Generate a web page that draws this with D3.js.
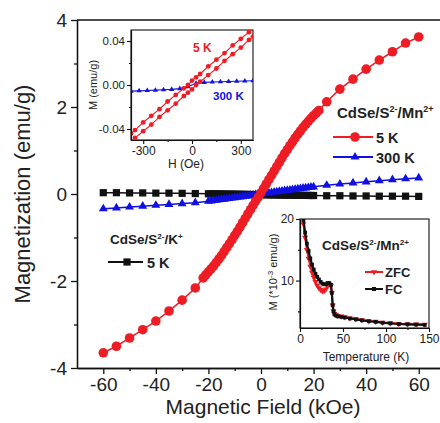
<!DOCTYPE html>
<html>
<head>
<meta charset="utf-8">
<script src="https://cdnjs.cloudflare.com/ajax/libs/d3/7.8.5/d3.min.js"></script>
<style>
  body { margin: 0; background: #fff; }
  svg { display: block; font-family: "Liberation Sans", Arial, sans-serif; }
</style>
</head>
<body>
<svg id="chart" width="440" height="423"></svg>
<script>
/* DATA */

// Main panel, CdSe/S2-/Mn2+ at 5 K (kOe, emu/g)
const field5K = [-60, -55, -50, -45, -40, -35, -30, -25,
  -22, -21, -20, -19, -18, -17, -16, -15, -14, -13, -12, -11, -10, -9, -8, -7, -6, -5, -4, -3, -2, -1,
  0, 1, 2, 3, 4, 5, 6, 7, 8, 9, 10, 11, 12, 13, 14, 15, 16, 17, 18, 19, 20, 21, 22,
  25, 30, 35, 40, 45, 50, 55, 60]
const mag5K = [-3.65, -3.5, -3.31, -3.12, -2.92, -2.69, -2.44, -2.16,
  -1.93, -1.86, -1.79, -1.72, -1.65, -1.57, -1.49, -1.41, -1.32, -1.23, -1.14, -1.05, -0.95, -0.86, -0.76, -0.66, -0.56, -0.46, -0.36, -0.26, -0.16, -0.07,
  0.03, 0.13, 0.23, 0.33, 0.43, 0.53, 0.63, 0.73, 0.83, 0.93, 1.02, 1.11, 1.2, 1.29, 1.37, 1.45, 1.53, 1.6, 1.67, 1.74, 1.8, 1.86, 1.92,
  2.12, 2.41, 2.64, 2.87, 3.08, 3.27, 3.47, 3.61]

// Main panel, shared field points for 300 K and K+ sample
const fieldOther = [-60, -55, -50, -45, -40, -35, -30, -25,
  -20, -19, -18, -17, -16, -15, -14, -13, -12, -11, -10, -9, -8, -7, -6, -5, -4, -3, -2, -1,
  0, 1, 2, 3, 4, 5, 6, 7, 8, 9, 10, 11, 12, 13, 14, 15, 16, 17, 18, 19, 20,
  25, 30, 35, 40, 45, 50, 55, 60]
const mag300K = [-0.34, -0.32, -0.3, -0.28, -0.26, -0.24, -0.22, -0.2,
  -0.165, -0.157, -0.149, -0.141, -0.133, -0.125, -0.117, -0.109, -0.1, -0.092, -0.084, -0.076, -0.068, -0.06, -0.051, -0.043, -0.034, -0.026, -0.017, -0.009,
  0, 0.009, 0.017, 0.026, 0.034, 0.043, 0.051, 0.06, 0.068, 0.076, 0.084, 0.092, 0.1, 0.109, 0.117, 0.125, 0.133, 0.141, 0.149, 0.157, 0.165,
  0.2, 0.23, 0.255, 0.28, 0.305, 0.33, 0.35, 0.37]
const magK5K = [0.03, 0.03, 0.025, 0.025, 0.02, 0.02, 0.015, 0.01,
  0.005, 0.004, 0.003, 0.002, 0.001, 0, -0.001, -0.002, -0.003, -0.004, -0.005, -0.006, -0.007, -0.008, -0.009, -0.01, -0.011, -0.012, -0.013, -0.014,
  -0.015, -0.016, -0.017, -0.018, -0.019, -0.02, -0.021, -0.022, -0.023, -0.024, -0.025, -0.026, -0.027, -0.028, -0.029, -0.03, -0.031, -0.032, -0.033, -0.034, -0.035,
  -0.04, -0.04, -0.045, -0.045, -0.05, -0.05, -0.05, -0.055]

const mainXTicks = [-60, -40, -20, 0, 20, 40, 60]
const mainXMinor = [-50, -30, -10, 10, 30, 50]
const mainYTicks = [-4, -2, 0, 2, 4]
const mainYMinor = [-3, -1, 1, 3]

// Inset 1: low field loops (Oe, emu/g)
const loopField = [-375, -350, -300, -250, -200, -150, -100, -50, -25, 0, 25, 50, 100, 150, 200, 250, 300, 350, 375]
const loopDown = [-0.044, -0.041, -0.034, -0.028, -0.022, -0.015, -0.009, -0.003, 0, 0.004, 0.007, 0.01, 0.017, 0.023, 0.029, 0.036, 0.042, 0.048, 0.052]
const loopUp = [-0.052, -0.048, -0.042, -0.036, -0.029, -0.023, -0.017, -0.01, -0.007, -0.004, 0, 0.003, 0.009, 0.015, 0.022, 0.028, 0.034, 0.041, 0.044]
const lowField300 = [-375, -325, -275, -225, -175, -125, -75, -25, 25, 75, 125, 175, 225, 275, 325, 375]
const lowMag300 = [-0.0056, -0.0053, -0.005, -0.0047, -0.0043, -0.004, -0.0033, -0.0015, 0.0015, 0.0024, 0.0027, 0.003, 0.0032, 0.0034, 0.0036, 0.0038]
const inset1XTicks = [-300, 0, 300]
const inset1XMinor = [-150, 150]
const inset1YTicks = [-0.04, 0, 0.04]
const inset1YMinor = [-0.02, 0.02]

// Inset 2: ZFC / FC (K, 1e-3 emu/g)
const temps = [4, 6, 8, 10, 12, 14, 16, 18, 20, 22, 24, 26, 28, 30, 32, 34, 36, 37, 38, 39, 40, 42, 44, 48, 52, 58, 65, 72, 80, 88, 96, 105, 115, 125, 135, 145]
const magFC = [19.8, 17.8, 16.0, 14.8, 13.6, 12.6, 11.8, 11.1, 10.6, 10.2, 9.8, 9.5, 9.4, 9.4, 9.6, 9.6, 9.3, 8.0, 6.0, 5.0, 4.5, 4.3, 4.2, 4.1, 4.0, 3.85, 3.7, 3.55, 3.4, 3.3, 3.15, 3.05, 2.95, 2.9, 2.85, 2.8]
const magZFC = [19.2, 17.0, 15.0, 13.6, 12.3, 11.3, 10.5, 9.8, 9.2, 8.8, 8.5, 8.3, 8.3, 8.6, 9.1, 9.4, 9.2, 8.0, 6.0, 5.0, 4.6, 4.4, 4.3, 4.2, 4.1, 3.9, 3.75, 3.6, 3.45, 3.35, 3.2, 3.1, 3.0, 2.95, 2.9, 2.85]
const inset2XTicks = [0, 50, 100, 150]
const inset2XMinor = [25, 75, 125]
const inset2YTicks = [10, 20]
const inset2YMinor = [5, 15]

/* COLOURS */
const red = '#ee1c24'
const blue = '#1010e0'
const black = '#111'

const svg = d3.select('#chart')

function styleAxis (g, fontSize, strokeWidth) {
  g.selectAll('path.domain').attr('stroke', black).attr('stroke-width', strokeWidth)
  g.selectAll('.tick line').attr('stroke', black).attr('stroke-width', strokeWidth)
  g.selectAll('.tick text').attr('fill', '#222').style('font-size', fontSize + 'px')
    .style('font-family', '"Liberation Sans", Arial, sans-serif')
}

// minor ticks only, no labels
function minorTicks (axis, translate, strokeWidth) {
  const g = svg.append('g').attr('transform', translate)
    .call(axis.tickSize(axis === null ? 0 : axis.tickSize()).tickSizeOuter(0))
  g.selectAll('.tick text').remove()
  styleAxis(g, 10, strokeWidth)
  return g
}

/* MAIN PANEL */

const x = d3.scaleLinear().domain([-70, 70]).range([77, 445])
const y = d3.scaleLinear().domain([-4, 4]).range([368, 20])

// top frame
svg.append('line')
  .attr('x1', x(-70)).attr('x2', x(70))
  .attr('y1', y(4)).attr('y2', y(4))
  .attr('stroke', black).attr('stroke-width', 1.3)

minorTicks(d3.axisBottom(x).tickValues(mainXMinor).tickSize(3), `translate(0,${y(-4)})`, 1.3)
const xAxisG = svg.append('g').attr('transform', `translate(0,${y(-4)})`)
  .call(d3.axisBottom(x).tickValues(mainXTicks).tickSize(6).tickSizeOuter(0).tickPadding(4).tickFormat(d => String(d)))
styleAxis(xAxisG, 19, 1.3)

minorTicks(d3.axisLeft(y).tickValues(mainYMinor).tickSize(3), `translate(${x(-70)},0)`, 1.3)
const yAxisG = svg.append('g').attr('transform', `translate(${x(-70)},0)`)
  .call(d3.axisLeft(y).tickValues(mainYTicks).tickSize(6).tickSizeOuter(0).tickPadding(4).tickFormat(d => String(d)))
styleAxis(yAxisG, 19, 1.3)

svg.append('text')
  .attr('x', 263).attr('y', 414)
  .attr('text-anchor', 'middle')
  .style('font-size', '21px').attr('fill', '#222')
  .text('Magnetic Field (kOe)')

svg.append('text')
  .attr('transform', 'translate(30,194) rotate(-90)')
  .attr('text-anchor', 'middle')
  .style('font-size', '22px').attr('fill', '#222')
  .text('Magnetization (emu/g)')

const line = d3.line().x(d => x(d[0])).y(d => y(d[1]))

// K+ sample, black squares
const kData = fieldOther.map((h, i) => [h, magK5K[i]])
svg.append('path').datum(kData).attr('d', line)
  .attr('fill', 'none').attr('stroke', black).attr('stroke-width', 1.5)
svg.append('g').selectAll('path').data(kData).join('path')
  .attr('transform', d => `translate(${x(d[0])},${y(d[1])})`)
  .attr('d', d3.symbol().type(d3.symbolSquare).size(52)())
  .attr('fill', black)

// 300 K, blue triangles
const blueData = fieldOther.map((h, i) => [h, mag300K[i]])
svg.append('path').datum(blueData).attr('d', line)
  .attr('fill', 'none').attr('stroke', blue).attr('stroke-width', 1.5)
svg.append('g').selectAll('path').data(blueData).join('path')
  .attr('transform', d => `translate(${x(d[0])},${y(d[1])})`)
  .attr('d', d3.symbol().type(d3.symbolTriangle).size(34)())
  .attr('fill', blue)

// 5 K, red circles
const redData = field5K.map((h, i) => [h, mag5K[i]])
svg.append('path').datum(redData).attr('d', line)
  .attr('fill', 'none').attr('stroke', red).attr('stroke-width', 1.5)
svg.append('g').selectAll('circle').data(redData).join('circle')
  .attr('cx', d => x(d[0])).attr('cy', d => y(d[1])).attr('r', 4.8)
  .attr('fill', red)

// Chemical formula label: parts alternate normal text / superscript
function chemLabel (px, py, size, parts) {
  const t = svg.append('text').attr('x', px).attr('y', py)
    .style('font-size', size + 'px').style('font-weight', 'bold').attr('fill', '#222')
  let raised = false
  parts.forEach(p => {
    if (p.sup) {
      t.append('tspan').attr('dy', -size * 0.4).style('font-size', (size * 0.6) + 'px').text(p.sup)
      raised = true
    } else {
      t.append('tspan').attr('dy', raised ? size * 0.4 : 0).text(p.t)
      raised = false
    }
  })
  return t
}

chemLabel(337, 118, 15, [{ t: 'CdSe/S' }, { sup: '2-' }, { t: '/Mn' }, { sup: '2+' }])

const legendItems = [
  { label: '5 K', colour: red, kind: 'circle', y: 137 },
  { label: '300 K', colour: blue, kind: 'triangle', y: 157 }
]
legendItems.forEach(d => {
  svg.append('line').attr('x1', 333).attr('x2', 373).attr('y1', d.y).attr('y2', d.y)
    .attr('stroke', d.colour).attr('stroke-width', 1.8)
  if (d.kind === 'circle') {
    svg.append('circle').attr('cx', 355).attr('cy', d.y).attr('r', 4.8).attr('fill', d.colour)
  } else {
    svg.append('path').attr('transform', `translate(355,${d.y})`)
      .attr('d', d3.symbol().type(d3.symbolTriangle).size(34)()).attr('fill', d.colour)
  }
  svg.append('text').attr('x', 376).attr('y', d.y + 5.5)
    .style('font-size', '14.5px').style('font-weight', 'bold').attr('fill', '#222')
    .text(d.label)
})

chemLabel(110, 244, 13.5, [{ t: 'CdSe/S' }, { sup: '2-' }, { t: '/K' }, { sup: '+' }])
svg.append('line').attr('x1', 108).attr('x2', 143).attr('y1', 262).attr('y2', 262)
  .attr('stroke', black).attr('stroke-width', 1.8)
svg.append('path').attr('transform', 'translate(127,262)')
  .attr('d', d3.symbol().type(d3.symbolSquare).size(52)()).attr('fill', black)
svg.append('text').attr('x', 147).attr('y', 267.5)
  .style('font-size', '14.5px').style('font-weight', 'bold').attr('fill', '#222')
  .text('5 K')

/* INSET 1: low-field loops */

const x1 = d3.scaleLinear().domain([-375, 375]).range([131, 253])
const y1 = d3.scaleLinear().domain([-0.05, 0.05]).range([140, 30])

svg.append('rect').attr('x', 131).attr('y', 30).attr('width', 122).attr('height', 110)
  .attr('fill', '#fff').attr('stroke', black).attr('stroke-width', 1.1)

svg.append('clipPath').attr('id', 'clip1')
  .append('rect').attr('x', 131).attr('y', 30).attr('width', 122).attr('height', 110)

const in1 = svg.append('g').attr('clip-path', 'url(#clip1)')
const line1 = d3.line().x(d => x1(d[0])).y(d => y1(d[1]))

const blueLow = lowField300.map((h, i) => [h, lowMag300[i]])
in1.append('path').datum(blueLow).attr('d', line1)
  .attr('fill', 'none').attr('stroke', blue).attr('stroke-width', 1.1)
in1.append('g').selectAll('path').data(blueLow).join('path')
  .attr('transform', d => `translate(${x1(d[0])},${y1(d[1])})`)
  .attr('d', d3.symbol().type(d3.symbolTriangle).size(12)())
  .attr('fill', blue)

;[loopDown, loopUp].forEach(branch => {
  const pts = loopField.map((h, i) => [h, branch[i]])
  in1.append('path').datum(pts).attr('d', line1)
    .attr('fill', 'none').attr('stroke', red).attr('stroke-width', 1.1)
  in1.append('g').selectAll('circle').data(pts).join('circle')
    .attr('cx', d => x1(d[0])).attr('cy', d => y1(d[1])).attr('r', 2.4)
    .attr('fill', red)
})

minorTicks(d3.axisBottom(x1).tickValues(inset1XMinor).tickSize(2), 'translate(0,140)', 1.1)
const i1xMajor = svg.append('g').attr('transform', 'translate(0,140)')
  .call(d3.axisBottom(x1).tickValues(inset1XTicks).tickSize(4).tickSizeOuter(0).tickPadding(2).tickFormat(d => String(d)))
styleAxis(i1xMajor, 12, 1.1)
minorTicks(d3.axisLeft(y1).tickValues(inset1YMinor).tickSize(2), 'translate(131,0)', 1.1)
const i1yMajor = svg.append('g').attr('transform', 'translate(131,0)')
  .call(d3.axisLeft(y1).tickValues(inset1YTicks).tickSize(4).tickSizeOuter(0).tickPadding(2).tickFormat(d => d.toFixed(2)))
styleAxis(i1yMajor, 11.5, 1.1)

svg.append('text').attr('x', 186).attr('y', 168).attr('text-anchor', 'middle')
  .style('font-size', '12px').attr('fill', '#222').text('H (Oe)')
svg.append('text').attr('transform', 'translate(97,85) rotate(-90)').attr('text-anchor', 'middle')
  .style('font-size', '11px').attr('fill', '#222').text('M (emu/g)')
svg.append('text').attr('x', 193).attr('y', 52)
  .style('font-size', '12px').style('font-weight', 'bold').attr('fill', red).text('5 K')
svg.append('text').attr('x', 213).attr('y', 100)
  .style('font-size', '11.5px').style('font-weight', 'bold').attr('fill', blue).text('300 K')

/* INSET 2: ZFC / FC */

const x2 = d3.scaleLinear().domain([0, 150]).range([300, 429])
const y2 = d3.scaleLinear().domain([2.3, 20]).range([328, 219])

svg.append('rect').attr('x', 300).attr('y', 219).attr('width', 129).attr('height', 109)
  .attr('fill', '#fff').attr('stroke', black).attr('stroke-width', 1.1)
svg.append('clipPath').attr('id', 'clip2')
  .append('rect').attr('x', 300).attr('y', 219).attr('width', 129).attr('height', 109)
const in2 = svg.append('g').attr('clip-path', 'url(#clip2)')
const line2 = d3.line().x(d => x2(d[0])).y(d => y2(d[1]))

const zfc = temps.map((t, i) => [t, magZFC[i]])
const fc = temps.map((t, i) => [t, magFC[i]])
in2.append('path').datum(zfc).attr('d', line2)
  .attr('fill', 'none').attr('stroke', red).attr('stroke-width', 2)
in2.append('g').selectAll('path').data(zfc).join('path')
  .attr('transform', d => `translate(${x2(d[0])},${y2(d[1])}) rotate(180)`)
  .attr('d', d3.symbol().type(d3.symbolTriangle).size(16)())
  .attr('fill', red)
in2.append('path').datum(fc).attr('d', line2)
  .attr('fill', 'none').attr('stroke', black).attr('stroke-width', 2.2)
in2.append('g').selectAll('path').data(fc).join('path')
  .attr('transform', d => `translate(${x2(d[0])},${y2(d[1])})`)
  .attr('d', d3.symbol().type(d3.symbolSquare).size(14)())
  .attr('fill', black)

minorTicks(d3.axisBottom(x2).tickValues(inset2XMinor).tickSize(2), 'translate(0,328)', 1.1)
const i2xMajor = svg.append('g').attr('transform', 'translate(0,328)')
  .call(d3.axisBottom(x2).tickValues(inset2XTicks).tickSize(4).tickSizeOuter(0).tickPadding(2).tickFormat(d => String(d)))
styleAxis(i2xMajor, 12, 1.1)
minorTicks(d3.axisLeft(y2).tickValues(inset2YMinor).tickSize(2), 'translate(300,0)', 1.1)
const i2yMajor = svg.append('g').attr('transform', 'translate(300,0)')
  .call(d3.axisLeft(y2).tickValues(inset2YTicks).tickSize(4).tickSizeOuter(0).tickPadding(2).tickFormat(d => String(d)))
styleAxis(i2yMajor, 12, 1.1)

svg.append('text').attr('x', 366).attr('y', 361).attr('text-anchor', 'middle')
  .style('font-size', '12px').attr('fill', '#222').text('Temperature (K)')
const i2yl = svg.append('text').attr('transform', 'translate(277,272) rotate(-90)').attr('text-anchor', 'middle')
  .style('font-size', '11px').attr('fill', '#222')
i2yl.append('tspan').text('M (*10')
i2yl.append('tspan').attr('dy', -4).style('font-size', '8px').text('-3')
i2yl.append('tspan').attr('dy', 4).text(' emu/g)')

chemLabel(322, 250, 13.5, [{ t: 'CdSe/S' }, { sup: '2-' }, { t: '/Mn' }, { sup: '2+' }])
const legend2 = [
  { label: 'ZFC', colour: red, y: 272 },
  { label: 'FC', colour: black, y: 289 }
]
legend2.forEach(d => {
  svg.append('line').attr('x1', 365).attr('x2', 383).attr('y1', d.y).attr('y2', d.y)
    .attr('stroke', d.colour).attr('stroke-width', 2)
  svg.append('path').attr('transform', `translate(374,${d.y})` + (d.label === 'ZFC' ? ' rotate(180)' : ''))
    .attr('d', d3.symbol().type(d.label === 'ZFC' ? d3.symbolTriangle : d3.symbolSquare).size(16)())
    .attr('fill', d.colour)
  svg.append('text').attr('x', 385).attr('y', d.y + 5)
    .style('font-size', '13px').style('font-weight', 'bold').attr('fill', '#222')
    .text(d.label)
})
</script>
</body>
</html>
